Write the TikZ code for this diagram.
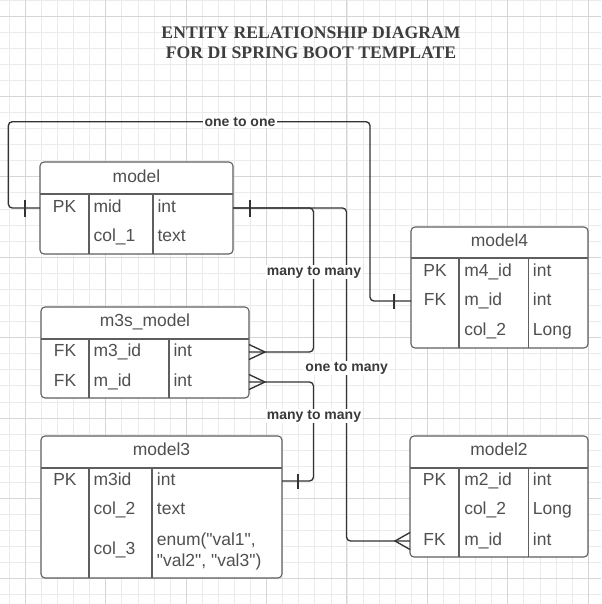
\documentclass[tikz,border=0pt]{standalone}
\usepackage{fontspec}
\setmainfont{Liberation Sans}[Ligatures=TeXOff]
\newfontfamily\titlefont{Liberation Serif}
\usetikzlibrary{calc}
\newcommand\dq{\char"22\relax}
\definecolor{gridminor}{HTML}{EBEBEB}
\definecolor{gridmajor}{HTML}{D6D6D6}
\definecolor{tblline}{HTML}{5E5E5E}
\definecolor{tbltext}{HTML}{505050}
\definecolor{linkc}{HTML}{333333}
\definecolor{lblc}{HTML}{3A3A3A}
\definecolor{ttlc}{HTML}{3E3E3E}
\begin{document}
\begin{tikzpicture}[x=0.75pt,y=-0.75pt,
  tbl/.style={draw=tblline, fill=white, rounded corners=3pt, line width=0.8pt, inner sep=0pt, outer sep=0pt},
  sepline/.style={draw=tblline, line width=0.8pt},
  cell/.style={font=\fontsize{13.1}{15}\selectfont, text=tbltext, inner sep=0pt, text height=0.72em, text depth=0pt},
  cellw/.style={cell, anchor=west},
  link/.style={draw=linkc, line width=1pt, rounded corners=3pt},
  bar/.style={draw=linkc, line width=1pt},
  lbl/.style={font=\bfseries\fontsize{10.5}{12}\selectfont, text=lblc, fill=white, inner sep=1pt}
]
\useasboundingbox (0,0) rectangle (601,604);
\fill[white] (0,0) rectangle (601,604);
% grid
\foreach \i in {0,...,37} {
  \draw[gridminor, line width=0.6pt] (9.3+\i*16.08,0) -- (9.3+\i*16.08,604);
}
\foreach \j in {-1,...,37} {
  \draw[gridminor, line width=0.6pt] (0,16+\j*16.08) -- (601,16+\j*16.08);
}
\foreach \i in {0,...,7} {
  \draw[gridmajor, line width=0.7pt] (25.3+\i*80.4,0) -- (25.3+\i*80.4,604);
}
\foreach \j in {0,...,7} {
  \draw[gridmajor, line width=0.7pt] (0,16+\j*80.4) -- (601,16+\j*80.4);
}

% title
\node[font=\titlefont\bfseries\fontsize{13.25}{15}\selectfont, text=ttlc, align=center] (title) at (311,43)
  {ENTITY RELATIONSHIP DIAGRAM\\FOR DI SPRING BOOT TEMPLATE};

% ---------- model ----------
\node[tbl, minimum width=193*0.75pt, minimum height=92*0.75pt] (model) at (136.5,208) {};
\draw[sepline] (40,194) -- (233,194);
\draw[sepline] (89,194) -- (89,254);
\draw[sepline] (153,194) -- (153,254);
\node[cell] (model-h) at (136.5,177.5) {model};
\node[cell] (m-pk) at (64.5,208) {PK};
\node[cellw] (m-mid) at (93.3,208) {mid};
\node[cellw] (m-int) at (157.3,208) {int};
\node[cellw] (m-col1) at (93.3,237) {col\_1};
\node[cellw] (m-text) at (157.3,237) {text};

% ---------- m3s_model ----------
\node[tbl, minimum width=208*0.75pt, minimum height=91*0.75pt] (m3s) at (145,352.5) {};
\draw[sepline] (41,339) -- (249,339);
\draw[sepline] (89,339) -- (89,398);
\draw[sepline] (169,339) -- (169,398);
\node[cell] (m3s-h) at (145,322) {m3s\_model};
\node[cell] (s-fk1) at (65,352) {FK};
\node[cellw] (s-m3) at (93.3,352) {m3\_id};
\node[cellw] (s-int1) at (173.3,352) {int};
\node[cell] (s-fk2) at (65,382) {FK};
\node[cellw] (s-mid) at (93.3,382) {m\_id};
\node[cellw] (s-int2) at (173.3,382) {int};

% ---------- model3 ----------
\node[tbl, minimum width=241*0.75pt, minimum height=142*0.75pt] (model3) at (161.5,507) {};
\draw[sepline] (41,468) -- (282,468);
\draw[sepline] (89,468) -- (89,578);
\draw[sepline] (152,468) -- (152,578);
\node[cell] (model3-h) at (161.5,451) {model3};
\node[cell] (t3-pk) at (65,481) {PK};
\node[cellw] (t3-id) at (93.3,481) {m3id};
\node[cellw] (t3-int) at (156.7,481) {int};
\node[cellw] (t3-col2) at (93.3,510) {col\_2};
\node[cellw] (t3-text) at (156.7,510) {text};
\node[cellw] (t3-col3) at (93.3,550) {col\_3};
\node[cellw] (t3-enum1) at (156.7,540.5) {enum(\dq val1\dq,};
\node[cellw] (t3-enum2) at (156.7,561.5) {\dq val2\dq, \dq val3\dq)};

% ---------- model4 ----------
\node[tbl, minimum width=177*0.75pt, minimum height=121*0.75pt] (model4) at (499.5,287.5) {};
\draw[sepline] (411,258) -- (588,258);
\draw[sepline] (459,258) -- (459,348);
\draw[sepline] (528.3,258) -- (528.3,348);
\node[cell] (model4-h) at (499.5,241.5) {model4};
\node[cell] (t4-pk) at (435,272) {PK};
\node[cellw] (t4-id) at (464,272) {m4\_id};
\node[cellw] (t4-int1) at (532.7,272) {int};
\node[cell] (t4-fk) at (435,301) {FK};
\node[cellw] (t4-mid) at (464,301) {m\_id};
\node[cellw] (t4-int2) at (532.7,301) {int};
\node[cellw] (t4-col2) at (464,331) {col\_2};
\node[cellw] (t4-long) at (532.7,331) {Long};

% ---------- model2 ----------
\node[tbl, minimum width=178*0.75pt, minimum height=121*0.75pt] (model2) at (499,496.5) {};
\draw[sepline] (410,468) -- (588,468);
\draw[sepline] (459,468) -- (459,557);
\draw[sepline] (528.3,468) -- (528.3,557);
\node[cell] (model2-h) at (499,451) {model2};
\node[cell] (t2-pk) at (434.5,481) {PK};
\node[cellw] (t2-id) at (464,481) {m2\_id};
\node[cellw] (t2-int1) at (532.7,481) {int};
\node[cellw] (t2-col2) at (464,510) {col\_2};
\node[cellw] (t2-long) at (532.7,510) {Long};
\node[cell] (t2-fk) at (434.5,541) {FK};
\node[cellw] (t2-mid) at (464,541) {m\_id};
\node[cellw] (t2-int2) at (532.7,541) {int};

% ---------- route helpers ----------
\coordinate (r1) at (8.3,121.7);
\coordinate (r2) at (370,121.7);
\coordinate (xa) at (313.5,0);
\coordinate (xb) at (346.5,0);

% one to one: model.mid -> model4.m_id
\draw[link] (model.west |- m-mid) -| (r1) -- (r2) |- (model4.west |- t4-mid);
\draw[bar] ($(model.west |- m-mid)+(-15,-8.5)$) -- ++(0,17);
\draw[bar] ($(model4.west |- t4-mid)+(-17,-7.5)$) -- ++(0,15);

% many to many: model.mid -> m3s.m3_id
\draw[link] (model.east |- m-mid) -| (xa |- s-m3) -- (m3s.east |- s-m3);
\draw[bar] ($(model.east |- m-mid)+(17,-8.5)$) -- ++(0,17);
\draw[bar] ($(m3s.east |- s-m3)+(0,-7.5)$) -- ++(16,7.5) -- ++(-16,7.5);

% one to many: model.mid -> model2.m_id
\draw[link] (model.east |- m-mid) -| (xb |- t2-mid) -- (model2.west |- t2-mid);
\draw[bar] ($(model2.west |- t2-mid)+(0,-8.5)$) -- ++(-15,8.5) -- ++(15,8.5);

% many to many: m3s.m_id -> model3.m3id
\draw[link] (m3s.east |- s-mid) -| (xa |- t3-id) -- (model3.east |- t3-id);
\draw[bar] ($(m3s.east |- s-mid)+(0,-7.5)$) -- ++(16,7.5) -- ++(-16,7.5);
\draw[bar] ($(model3.east |- t3-id)+(16,-7.5)$) -- ++(0,15);

% labels
\node[lbl] (l-oneone) at (240,121.7) {one to one};
\node[lbl] (l-mm1) at (314,272) {many to many};
\node[lbl] (l-om) at (346.7,368) {one to many};
\node[lbl] (l-mm2) at (314,416) {many to many};
\end{tikzpicture}
\end{document}
